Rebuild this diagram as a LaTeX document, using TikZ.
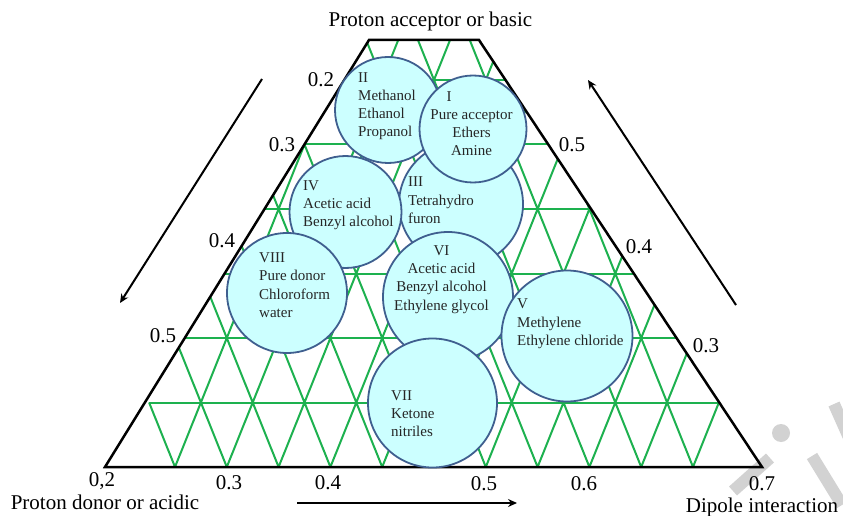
\documentclass[tikz,border=0pt]{standalone}
\usepackage{fontspec}
\setmainfont{Liberation Serif}
\usetikzlibrary{arrows.meta}
\definecolor{gridgreen}{HTML}{1DB14F}
\definecolor{blobfill}{HTML}{CCFFFF}
\definecolor{blobedge}{HTML}{3F5F8F}
\definecolor{wmark}{HTML}{D2D2D2}
\begin{document}
\begin{tikzpicture}[x=1pt,y=-1pt,
  gridline/.style={draw=gridgreen, line width=2pt, line join=round},
  frame/.style={draw=black, line width=2.5pt, line join=miter},
  blob/.style={circle, draw=blobedge, fill=blobfill, line width=1.8pt, inner sep=0pt},
  blobtext/.style={font=\fontsize{15}{18.3}\selectfont, text=black!85, inner sep=0pt, align=left, anchor=base west},
  blobtextc/.style={blobtext, align=center, anchor=base},
  lbl/.style={font=\fontsize{21}{25}\selectfont, inner sep=0pt, anchor=base},
  arr/.style={draw=black, line width=2pt, -{Stealth[length=9pt,width=8pt,inset=3pt]}},
  wm/.style={draw=wmark, line width=12pt}
]
\useasboundingbox (0,0) rectangle (843,516);

% watermark
\fill[wmark] (781,433) circle (9);
\draw[wm] (733,491) -- (770,458);
\draw[wm] (812,456) -- (842,505);
\draw[wm] (834,404) -- (850,440);

% grid
\begin{scope}
\clip (105,467) -- (369,40) -- (479,40) -- (762,467) -- cycle;
\foreach \k/\ms/\me in {0/-1/21, 1/0/26, 2/-4/26, 3/-4/26, 4/-4/26, 5/-4/26, 6/-4/26}
  \draw[gridline] plot[samples at={\ms,...,\me}] ({175+25.9*\x},{467-64.5*(\k+mod(\x-\k+100,2))});
\draw[gridline] (149.1,402.5) -- (718.9,402.5);
\foreach \k in {2,...,6} \draw[gridline] (0,{467-64.5*\k}) -- (843,{467-64.5*\k});
\end{scope}

% frame
\draw[frame] (105,467) -- (369,40) -- (479,40) -- (762,467) -- cycle;

% circles
\node[blob, minimum size=106pt] (c2) at (388,110) {};
\node[blob, minimum size=124pt] (c3) at (461,204) {};
\node[blob, minimum size=107pt] (c1) at (473,129) {};
\node[blob, minimum size=112pt] (c4) at (345.5,212) {};
\node[blob, minimum size=120pt] (c8) at (287,293) {};
\node[blob, minimum size=130pt] (c6) at (448,297) {};
\node[blob, minimum size=129pt] (c7) at (432.5,403) {};
\node[blob, minimum size=131pt] (c5) at (567,336) {};

% circle texts (anchored at the baseline of the last line)
\node[blobtext] (t2) at (358,137) {II\\Methanol\\Ethanol\\Propanol};
\node[blobtextc] (t1) at (471.5,156) {\makebox[50pt][l]{I}\\Pure acceptor\\Ethers\\Amine};
\node[blobtext] (t3) at (408,223.5) {III\\Tetrahydro\\furon};
\node[blobtext] (t4) at (303,226.6) {IV\\Acetic acid\\Benzyl alcohol};
\node[blobtext] (t8) at (259,317.5) {VIII\\Pure donor\\Chloroform\\water};
\node[blobtextc] (t6) at (441.5,310) {VI\\Acetic acid\\Benzyl alcohol\\Ethylene glycol};
\node[blobtext] (t5) at (517,345.5) {V\\Methylene\\Ethylene chloride};
\node[blobtext] (t7) at (391,436.6) {VII\\Ketone\\nitriles};

% labels
\node[lbl] (top) at (430.5,27) {Proton acceptor or basic};
\node[lbl] (l2) at (321,87) {0.2};
\node[lbl] (l3) at (282,152) {0.3};
\node[lbl] (l4) at (222,247) {0.4};
\node[lbl] (l5) at (163,342) {0.5};
\node[lbl] (r5) at (572,151) {0.5};
\node[lbl] (r4) at (639,253) {0.4};
\node[lbl] (r3) at (706,352) {0.3};
\node[lbl] (b2) at (102,486) {0,2};
\node[lbl] (b3) at (229,489) {0.3};
\node[lbl] (b4) at (328,489) {0.4};
\node[lbl] (b5) at (484,490) {0.5};
\node[lbl] (b6) at (584,490) {0.6};
\node[lbl] (b7) at (762,490) {0.7};
\node[lbl] (donor) at (105,509) {Proton donor or acidic};
\node[lbl] (dipole) at (762,512) {Dipole interaction};

% arrows
\coordinate (la1) at (262,79);
\coordinate (la2) at (120,303);
\coordinate (ra1) at (736,305);
\coordinate (ra2) at (588,80);
\coordinate (ba1) at (297,503);
\coordinate (ba2) at (517,503);
\draw[arr] (la1) -- (la2);
\draw[arr] (ra1) -- (ra2);
\draw[arr] (ba1) -- (ba2);
\end{tikzpicture}
\end{document}
